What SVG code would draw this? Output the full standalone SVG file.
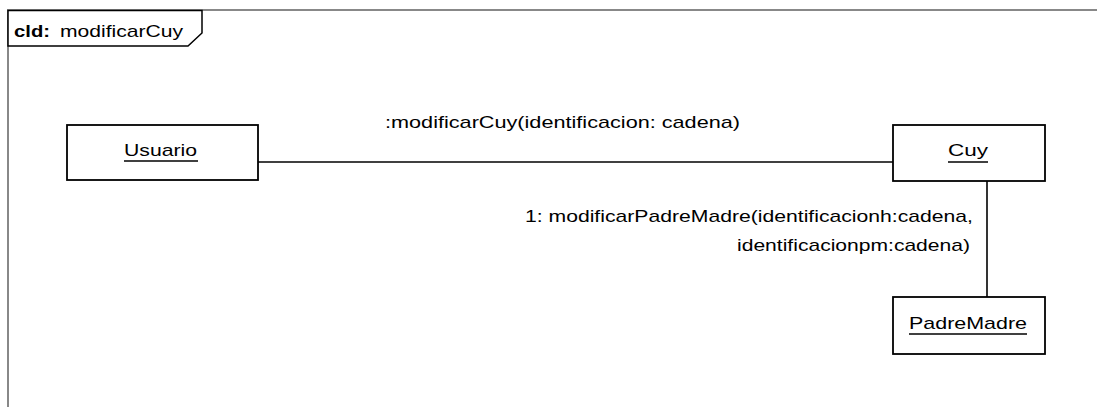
<svg xmlns="http://www.w3.org/2000/svg" width="1097" height="407" viewBox="0 0 1097 407">
<style>
.frame{fill:none;stroke:#888;stroke-width:2}
.tab{fill:#fff;stroke:#000;stroke-width:1.5}
.box{fill:#fff;stroke:#000;stroke-width:1.8}
.conn{fill:none;stroke:#000;stroke-width:1.6}
.ul{stroke:#000;stroke-width:1.6}
text{font-family:"Liberation Sans",Arial,sans-serif;font-size:17px;fill:#000}
.b{font-weight:bold}
</style>
<rect width="1097" height="407" fill="#fff"/>
<g id="frame">
<path class="frame" d="M8,408 V10 H1097"/>
<path class="tab" d="M8,10.5 H202 V33 L188,46 H8 Z"/>
<text x="14" y="37" class="b" textLength="36" lengthAdjust="spacingAndGlyphs">cld:</text>
<text x="60" y="37" textLength="123" lengthAdjust="spacingAndGlyphs">modificarCuy</text>
</g>
<g id="connectors">
<line class="conn" x1="258" y1="162" x2="893" y2="162"/>
<line class="conn" x1="987" y1="181" x2="987" y2="297"/>
<text x="385" y="128" textLength="355" lengthAdjust="spacingAndGlyphs">:modificarCuy(identificacion: cadena)</text>
<text x="525" y="222" textLength="448" lengthAdjust="spacingAndGlyphs">1: modificarPadreMadre(identificacionh:cadena,</text>
<text x="737" y="251" textLength="233" lengthAdjust="spacingAndGlyphs">identificacionpm:cadena)</text>
</g>
<g id="usuario">
<rect class="box" x="67" y="125" width="191" height="55"/>
<text x="124" y="156" textLength="73" lengthAdjust="spacingAndGlyphs">Usuario</text>
<line class="ul" x1="124" y1="161" x2="198" y2="161"/>
</g>
<g id="cuy">
<rect class="box" x="893" y="125" width="152" height="56"/>
<text x="948" y="156" textLength="40" lengthAdjust="spacingAndGlyphs">Cuy</text>
<line class="ul" x1="948" y1="162" x2="988" y2="162"/>
</g>
<g id="padremadre">
<rect class="box" x="893" y="297" width="152" height="57"/>
<text x="909" y="329" textLength="118" lengthAdjust="spacingAndGlyphs">PadreMadre</text>
<line class="ul" x1="909" y1="334" x2="1027" y2="334"/>
</g>
</svg>
